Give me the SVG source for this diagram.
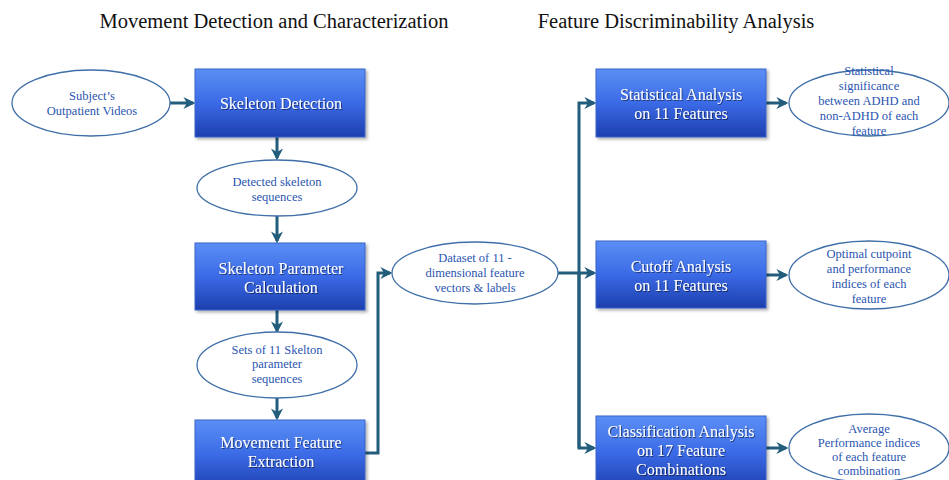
<svg xmlns="http://www.w3.org/2000/svg" width="949" height="480" viewBox="0 0 949 480">
<defs>
<linearGradient id="bg" x1="0" y1="0" x2="0" y2="1">
<stop offset="0" stop-color="#5b8ff5"/>
<stop offset="0.5" stop-color="#3b6ae6"/>
<stop offset="1" stop-color="#1d3fae"/>
</linearGradient>
<marker id="ah" viewBox="0 0 10 10" refX="8" refY="5" markerWidth="4" markerHeight="4" orient="auto">
<path d="M0,0 L10,5 L0,10 L3,5 z" fill="#235d7c"/>
</marker>
<filter id="sh" x="-10%" y="-10%" width="130%" height="130%">
<feDropShadow dx="2" dy="2" stdDeviation="1.5" flood-color="#000" flood-opacity="0.3"/>
</filter>
<filter id="ts" x="-5%" y="-20%" width="110%" height="150%">
<feDropShadow dx="1" dy="1" stdDeviation="0.6" flood-color="#000" flood-opacity="0.5"/>
</filter>
</defs>
<style>
.title{font-family:"Liberation Serif","Times New Roman",serif;font-size:20.5px;fill:#111;}
.box{fill:url(#bg);stroke:#3a63c8;stroke-width:1;filter:url(#sh);}
.bt{font-family:"Liberation Serif","Times New Roman",serif;font-size:16px;fill:#fff;text-anchor:middle;filter:url(#ts);}
.el{fill:#fff;stroke:#3f6fa8;stroke-width:1.3;}
.et{font-family:"Liberation Serif","Times New Roman",serif;font-size:12.5px;fill:#2a55b0;text-anchor:middle;}
.cn{fill:none;stroke:#235d7c;stroke-width:3;}
</style>
<rect width="949" height="480" fill="#fff"/>
<text class="title" x="274" y="28" text-anchor="middle">Movement Detection and Characterization</text>
<text class="title" x="676" y="28" text-anchor="middle">Feature Discriminability Analysis</text>

<g id="connectors">
<path class="cn" d="M170,103 H193" marker-end="url(#ah)"/>
<path class="cn" d="M277,137 V158" marker-end="url(#ah)"/>
<path class="cn" d="M277,216 V241" marker-end="url(#ah)"/>
<path class="cn" d="M277,310 V331" marker-end="url(#ah)"/>
<path class="cn" d="M277,398 V418" marker-end="url(#ah)"/>
<path class="cn" d="M365,453 H378 V273 H390" marker-end="url(#ah)"/>
<path class="cn" d="M558,273 H594" marker-end="url(#ah)"/>
<path class="cn" d="M579,448 V103 H594" marker-end="url(#ah)"/>
<path class="cn" d="M579,273 V448 H594" marker-end="url(#ah)"/>
<path class="cn" d="M766,103 H786" marker-end="url(#ah)"/>
<path class="cn" d="M766,275 H786" marker-end="url(#ah)"/>
<path class="cn" d="M766,448 H786" marker-end="url(#ah)"/>
</g>

<g id="n-videos">
<ellipse class="el" cx="91" cy="103" rx="79" ry="33"/>
<text class="et" x="92" y="100">Subject’s</text>
<text class="et" x="92" y="115">Outpatient Videos</text>
</g>
<g id="n-skeldet">
<rect class="box" x="195" y="69" width="170" height="68"/>
<text class="bt" x="281" y="109">Skeleton Detection</text>
</g>
<g id="n-detseq">
<ellipse class="el" cx="277" cy="188" rx="80" ry="28"/>
<text class="et" x="277" y="186">Detected skeleton</text>
<text class="et" x="277" y="201">sequences</text>
</g>
<g id="n-skelparam">
<rect class="box" x="195" y="243" width="170" height="67"/>
<text class="bt" x="281" y="274">Skeleton Parameter</text>
<text class="bt" x="281" y="293">Calculation</text>
</g>
<g id="n-sets">
<ellipse class="el" cx="277" cy="365" rx="80" ry="33"/>
<text class="et" x="277" y="354">Sets of 11 Skelton</text>
<text class="et" x="277" y="368">parameter</text>
<text class="et" x="277" y="383">sequences</text>
</g>
<g id="n-movfeat">
<rect class="box" x="195" y="420" width="170" height="70"/>
<text class="bt" x="281" y="448">Movement Feature</text>
<text class="bt" x="281" y="467">Extraction</text>
</g>
<g id="n-dataset">
<ellipse class="el" cx="475" cy="273" rx="83" ry="31"/>
<text class="et" x="475" y="262">Dataset of 11 -</text>
<text class="et" x="475" y="277">dimensional feature</text>
<text class="et" x="475" y="292">vectors &amp; labels</text>
</g>
<g id="n-stat">
<rect class="box" x="596" y="69" width="170" height="68"/>
<text class="bt" x="681" y="100">Statistical Analysis</text>
<text class="bt" x="681" y="119">on 11 Features</text>
</g>
<g id="n-statres">
<ellipse class="el" cx="869" cy="103" rx="80" ry="33"/>
<text class="et" x="869" y="75">Statistical</text>
<text class="et" x="869" y="90">significance</text>
<text class="et" x="869" y="105">between ADHD and</text>
<text class="et" x="869" y="120">non-ADHD of each</text>
<text class="et" x="869" y="135">feature</text>
</g>
<g id="n-cutoff">
<rect class="box" x="596" y="241" width="170" height="67"/>
<text class="bt" x="681" y="272">Cutoff Analysis</text>
<text class="bt" x="681" y="291">on 11 Features</text>
</g>
<g id="n-cutres">
<ellipse class="el" cx="869" cy="275" rx="80" ry="34"/>
<text class="et" x="869" y="258">Optimal cutpoint</text>
<text class="et" x="869" y="273">and performance</text>
<text class="et" x="869" y="288">indices  of  each</text>
<text class="et" x="869" y="303">feature</text>
</g>
<g id="n-class">
<rect class="box" x="596" y="416" width="170" height="74"/>
<text class="bt" x="681" y="437">Classification Analysis</text>
<text class="bt" x="681" y="456">on 17 Feature</text>
<text class="bt" x="681" y="475">Combinations</text>
</g>
<g id="n-classres">
<ellipse class="el" cx="869" cy="448" rx="80" ry="34"/>
<text class="et" x="869" y="433">Average</text>
<text class="et" x="869" y="447">Performance indices</text>
<text class="et" x="869" y="461">of each feature</text>
<text class="et" x="869" y="475">combination</text>
</g>
</svg>
